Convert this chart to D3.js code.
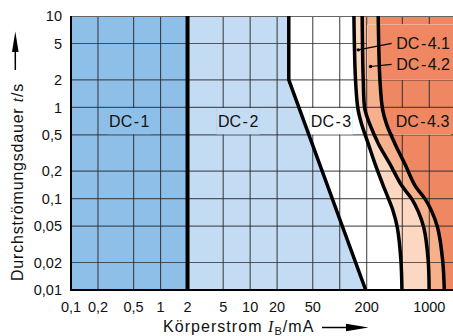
<!DOCTYPE html>
<html>
<head>
<meta charset="utf-8">
<script src="https://cdn.jsdelivr.net/npm/d3@7"></script>
<style>
body { margin: 0; background: #fff; }
svg { display: block; font-family: "Liberation Sans", Arial, sans-serif; }
</style>
</head>
<body>
<script>
const xTicks = [0.1, 0.2, 0.5, 1, 2, 5, 10, 20, 50, 100, 200, 500, 1000];
const xTickLabels = ["0,1", "0,2", "0,5", "1", "2", "5", "10", "20", "50", "", "200", "", "1000"];
const yTicks = [10, 5, 2, 1, 0.5, 0.2, 0.1, 0.05, 0.02, 0.01];
const yTickLabels = ["10", "5", "2", "1", "0,5", "0,2", "0,1", "0,05", "0,02", "0,01"];

// boundary curves as [current mA, time s], from 10 s down to 0.01 s
const curveA = [[2, 10], [2, 0.01]];
const curveB = [[27, 10], [27, 2], [195, 0.01]];
const curveC1 = [[144, 10], [150, 2], [160, 0.95], [176, 0.65], [208, 0.4], [248, 0.24], [305, 0.14],
    [350, 0.1], [395, 0.073], [440, 0.048], [482, 0.021], [495, 0.01]];
const curveC2 = [[178, 10], [183, 2], [191, 0.95], [217, 0.65], [270, 0.4], [363, 0.24], [490, 0.14],
    [634, 0.1], [750, 0.073], [870, 0.048], [972, 0.021], [995, 0.01]];
const curveC3 = [[269, 10], [281, 2], [301, 0.95], [334, 0.65], [413, 0.4], [534, 0.24], [690, 0.14],
    [893, 0.1], [1062, 0.073], [1240, 0.048], [1410, 0.021], [1470, 0.01]];

const zoneNames = ["DC-1", "DC-2", "DC-3", "DC-4.1", "DC-4.2", "DC-4.3"];
const zoneColors = ["#8dbfe8", "#c4dcf3", "#ffffff", "#fcd8c3", "#f6b08c", "#ee8762"];

const svgWidth = 453,
    svgHeight = 336;

const x = d3.scaleLog().domain([0.1, 1000]).range([71, 429.3]);
const y = d3.scaleLog().domain([10, 0.01]).range([16, 290]);
const pLeft = x(0.1), pRight = svgWidth, pTop = y(10), pBottom = y(0.01);

const svg = d3.select("body").append("svg")
    .attr("width", svgWidth)
    .attr("height", svgHeight);

const smooth = d3.line().x(d => x(d[0])).y(d => y(d[1])).curve(d3.curveCatmullRom.alpha(0.5));
const straight = d3.line().x(d => x(d[0])).y(d => y(d[1]));

const boundaries = [
    { pts: curveA, gen: straight, w: 4 },
    { pts: curveB, gen: straight, w: 3.5 },
    { pts: curveC1, gen: smooth, w: 3.5 },
    { pts: curveC2, gen: smooth, w: 3.5 },
    { pts: curveC3, gen: smooth, w: 3.5 }
];

// area to the right of a boundary curve, up to the plot's right edge
function rightOf(b) {
    return b.gen(b.pts) + "L" + pRight + "," + pBottom + "L" + pRight + "," + pTop + "Z";
}

const defs = svg.append("defs");
defs.append("clipPath").attr("id", "plot")
    .append("rect").attr("x", pLeft).attr("y", pTop).attr("width", pRight - pLeft).attr("height", pBottom - pTop);

function drawZones(g) {
    g.append("rect").attr("x", pLeft).attr("y", pTop).attr("width", pRight - pLeft).attr("height", pBottom - pTop)
        .attr("fill", zoneColors[0]);
    boundaries.forEach(function (b, i) {
        g.append("path").attr("d", rightOf(b)).attr("fill", zoneColors[i + 1]);
    });
}

const plot = svg.append("g").attr("clip-path", "url(#plot)");
drawZones(plot);

// grid
plot.append("g").selectAll("line")
    .data(xTicks.slice(1)).enter().append("line")
    .attr("x1", d => x(d)).attr("x2", d => x(d))
    .attr("y1", pTop).attr("y2", pBottom)
    .attr("stroke", "#2a2a2a").attr("stroke-opacity", 0.85).attr("stroke-width", 1.1);
plot.append("g").selectAll("line")
    .data(yTicks.slice(1, -1)).enter().append("line")
    .attr("y1", d => y(d)).attr("y2", d => y(d))
    .attr("x1", pLeft).attr("x2", pRight)
    .attr("stroke", "#2a2a2a").attr("stroke-opacity", 0.75).attr("stroke-width", 1.2);
plot.append("line").attr("x1", pLeft).attr("x2", pRight).attr("y1", pTop + 0.5).attr("y2", pTop + 0.5)
    .attr("stroke", "#666").attr("stroke-width", 1);

// zone labels in the 1 s .. 0.5 s row
const rowY = (y(1) + y(0.5)) / 2;
const zoneLabels = [
    { name: zoneNames[0], cx: (x(0.1) + x(2)) / 2, cy: rowY, anchor: "middle" },
    { name: zoneNames[1], cx: (x(2) + x(27)) / 2, cy: rowY, anchor: "middle" },
    { name: zoneNames[2], cx: x(80), cy: rowY, anchor: "middle" },
    { name: zoneNames[5], cx: x(840), cy: rowY, anchor: "middle" },
    { name: zoneNames[3], cx: x(428), cy: y(5.05), anchor: "start" },
    { name: zoneNames[4], cx: x(428), cy: y(2.96), anchor: "start" }
];

const labels = svg.append("g").attr("font-size", 16).attr("fill", "#111");
labels.selectAll("text").data(zoneLabels).enter().append("text")
    .attr("x", d => d.cx).attr("y", d => d.cy).attr("dy", "0.36em")
    .attr("text-anchor", d => d.anchor)
    .each(function (d) {
        const parts = d.name.split("-");
        const t = d3.select(this);
        t.append("tspan").text(parts[0]);
        t.append("tspan").attr("dx", 1.5).text("-");
        t.append("tspan").attr("dx", 1.5).text(parts[1]);
    });

// label backgrounds: zone colours repainted over the grid
const mask = defs.append("clipPath").attr("id", "labelbg");
labels.selectAll("text").each(function (d) {
    if (d.anchor !== "middle") return;
    const w = this.getComputedTextLength();
    mask.append("rect").attr("x", d.cx - w / 2 - 3).attr("width", w + 6)
        .attr("y", y(1) + 0.7).attr("height", y(0.5) - y(1) - 1.4);
});
mask.append("rect").attr("x", x(205)).attr("width", pRight - x(205))
    .attr("y", y(8)).attr("height", y(2) - y(8) - 0.7);
const bg = plot.append("g").attr("clip-path", "url(#labelbg)");
drawZones(bg);

// boundary curves
boundaries.forEach(function (b) {
    plot.append("path").attr("d", b.gen(b.pts))
        .attr("fill", "none").attr("stroke", "#000").attr("stroke-width", b.w)
        .attr("stroke-linejoin", "round");
});

labels.raise();

// leaders for DC-4.1 and DC-4.2
const leaders = [
    { from: [379, 5.02], to: [161, 4.26] },
    { from: [379, 2.96], to: [221, 2.8] }
];
leaders.forEach(function (l) {
    svg.append("line")
        .attr("x1", x(l.from[0])).attr("y1", y(l.from[1]))
        .attr("x2", x(l.to[0])).attr("y2", y(l.to[1]))
        .attr("stroke", "#000").attr("stroke-width", 1.2);
    svg.append("circle").attr("cx", x(l.to[0])).attr("cy", y(l.to[1])).attr("r", 1.7).attr("fill", "#000");
});

// frame
svg.append("line").attr("x1", pLeft).attr("x2", pLeft).attr("y1", pTop).attr("y2", pBottom + 1)
    .attr("stroke", "#000").attr("stroke-width", 2);
svg.append("line").attr("x1", pLeft - 1).attr("x2", pRight).attr("y1", pBottom).attr("y2", pBottom)
    .attr("stroke", "#000").attr("stroke-width", 2);

// tick labels
svg.append("g").attr("font-size", 14.5).attr("fill", "#111").attr("text-anchor", "end")
    .selectAll("text").data(yTicks).enter().append("text")
    .attr("x", 62).attr("y", d => y(d)).attr("dy", "0.36em")
    .text((d, i) => yTickLabels[i]);
svg.append("g").attr("font-size", 14.5).attr("fill", "#111").attr("text-anchor", "middle")
    .selectAll("text").data(xTicks).enter().append("text")
    .attr("x", d => x(d)).attr("y", 311.5)
    .text((d, i) => xTickLabels[i]);

// axis titles with arrows
const xTitle = svg.append("text").attr("x", 163).attr("y", 331.5).attr("font-size", 16)
    .attr("letter-spacing", 1.05).attr("fill", "#111");
xTitle.append("tspan").text("Körperstrom ");
xTitle.append("tspan").attr("font-family", "Liberation Serif, serif").attr("font-style", "italic").text("I");
xTitle.append("tspan").attr("font-size", 11).attr("dy", 3).text("B");
xTitle.append("tspan").attr("dy", -3).text("/mA");

svg.append("line").attr("x1", 322).attr("x2", 350).attr("y1", 327.5).attr("y2", 327.5)
    .attr("stroke", "#000").attr("stroke-width", 1.5);
svg.append("path").attr("d", "M346,323.7L368.5,327.5L346,331.3Z").attr("fill", "#000");

const yTitle = svg.append("text").attr("transform", "translate(23,281) rotate(-90)")
    .attr("font-size", 16).attr("letter-spacing", 0.8).attr("fill", "#111");
yTitle.append("tspan").text("Durchströmungsdauer ");
yTitle.append("tspan").attr("font-family", "Liberation Serif, serif").attr("font-style", "italic").text("t");
yTitle.append("tspan").text("/s");

svg.append("line").attr("x1", 15.3).attr("x2", 15.3).attr("y1", 70).attr("y2", 48)
    .attr("stroke", "#000").attr("stroke-width", 1.5);
svg.append("path").attr("d", "M12,52L15.3,31.5L18.6,52Z").attr("fill", "#000");
</script>
</body>
</html>
